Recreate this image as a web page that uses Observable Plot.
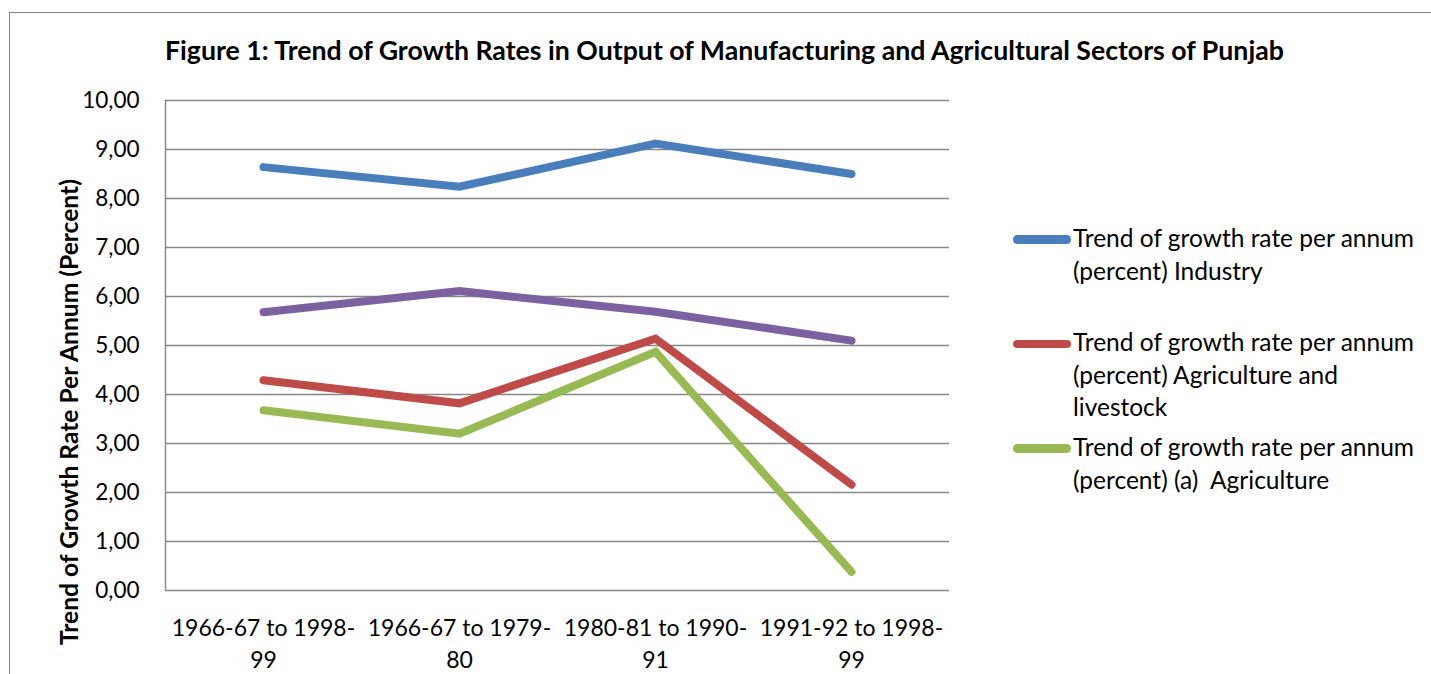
<!DOCTYPE html>
<html>
<head>
<meta charset="utf-8">
<script src="https://cdn.jsdelivr.net/npm/d3@7"></script>
<script src="https://cdn.jsdelivr.net/npm/@observablehq/plot@0.6"></script>
<style>
  html, body { margin: 0; padding: 0; background: #fff; }
  #wrap { position: relative; width: 1431px; height: 674px; overflow: hidden; font-family: Lato, "Open Sans", sans-serif; color: #000; }
  #border { position: absolute; left: 9px; top: 12px; width: 1500px; height: 800px; border: 1.5px solid #878787; box-sizing: border-box; }
  #title { position: absolute; left: 165px; top: 32px; font-weight: bold; font-size: 26.7px; white-space: nowrap; line-height: 36px; }
  #ytitle { position: absolute; left: 68px; top: 412px; transform: translate(-50%, -50%) rotate(-90deg); font-weight: bold; font-size: 24.6px; white-space: nowrap; }
  #chart { position: absolute; left: 0; top: 0; }
  .lg-sw { position: absolute; left: 1013px; width: 58px; height: 8.5px; border-radius: 4.25px; }
  .lg-tx { position: absolute; left: 1073px; font-size: 24.5px; line-height: 32.5px; white-space: nowrap; }
</style>
</head>
<body>
<div id="wrap">
  <div id="border"></div>
  <div id="chart"></div>
  <div id="title"></div>
  <div id="ytitle"></div>
  <div id="legend"></div>
</div>
<script>
const categories = ["1966-67 to 1998-99", "1966-67 to 1979-80", "1980-81 to 1990-91", "1991-92 to 1998-99"];
const tickLabels = ["1966-67 to 1998-\n99", "1966-67 to 1979-\n80", "1980-81 to 1990-\n91", "1991-92 to 1998-\n99"];
const industry = [8.64, 8.24, 9.12, 8.50];
const agriLivestock = [4.29, 3.82, 5.14, 2.16];
const agriculture = [3.68, 3.20, 4.87, 0.38];
const unlabelled = [5.68, 6.11, 5.69, 5.10];
const yTicks = [0, 1, 2, 3, 4, 5, 6, 7, 8, 9, 10];
const seriesNames = [
  "Trend of growth rate per annum\n(percent) Industry",
  "Trend of growth rate per annum\n(percent) Agriculture and\nlivestock",
  "Trend of growth rate per annum\n(percent) (a)  Agriculture",
  ""
];
const seriesColors = ["#4a7ebb", "#be4b48", "#98b954", "#7d60a0"];
const titleText = "Figure 1: Trend of Growth Rates in Output of Manufacturing and Agricultural Sectors of Punjab";
const yTitleText = "Trend of Growth Rate Per Annum (Percent)";

const seriesValues = [industry, agriLivestock, agriculture, unlabelled];
const rows = [];
seriesValues.forEach((vals, s) => vals.forEach((v, i) => rows.push({series: s, cat: categories[i], value: v})));

const lineMarks = seriesValues.map((vals, s) =>
  Plot.line(rows.filter(r => r.series === s), {
    x: "cat", y: "value", stroke: seriesColors[s], strokeWidth: 8,
    strokeLinecap: "round", strokeLinejoin: "miter", strokeMiterlimit: 4
  })
);

const chart = Plot.plot({
  width: 1431,
  height: 674,
  marginTop: 100,
  marginBottom: 84,
  marginLeft: 165,
  marginRight: 482,
  style: { fontFamily: "Lato, 'Open Sans', sans-serif", color: "#000", background: "transparent", overflow: "visible" },
  x: { type: "point", domain: categories, padding: 0.5 },
  y: { domain: [0, 10] },
  marks: [
    Plot.ruleY(yTicks, { stroke: "#878787", strokeWidth: 1.4 }),
    Plot.frame({ anchor: "left", stroke: "#878787", strokeWidth: 1.4 }),
    Plot.axisY({ ticks: yTicks, tickSize: 0, tickPadding: 26, fontSize: 22.5, tickFormat: d => d.toFixed(2).replace(".", ","), label: null }),
    Plot.axisX({ tickSize: 0, tickPadding: 23, fontSize: 23, lineHeight: 1.38, tickFormat: d => tickLabels[categories.indexOf(d)], label: null }),
    ...lineMarks
  ]
});
document.getElementById("chart").appendChild(chart);

document.getElementById("title").textContent = titleText;
document.getElementById("ytitle").textContent = yTitleText;

const legendTops = [222, 326, 431];
const swatchCenters = [239.3, 344, 448.3];
const legend = document.getElementById("legend");
seriesNames.forEach((name, s) => {
  if (!name) return;
  const sw = document.createElement("div");
  sw.className = "lg-sw";
  sw.style.background = seriesColors[s];
  sw.style.top = (swatchCenters[s] - 4.25) + "px";
  legend.appendChild(sw);
  const tx = document.createElement("div");
  tx.className = "lg-tx";
  tx.style.top = legendTops[s] + "px";
  tx.innerHTML = name.split("\n").map(t => t.replace(/  /g, " &nbsp;")).join("<br>");
  legend.appendChild(tx);
});
</script>
</body>
</html>
